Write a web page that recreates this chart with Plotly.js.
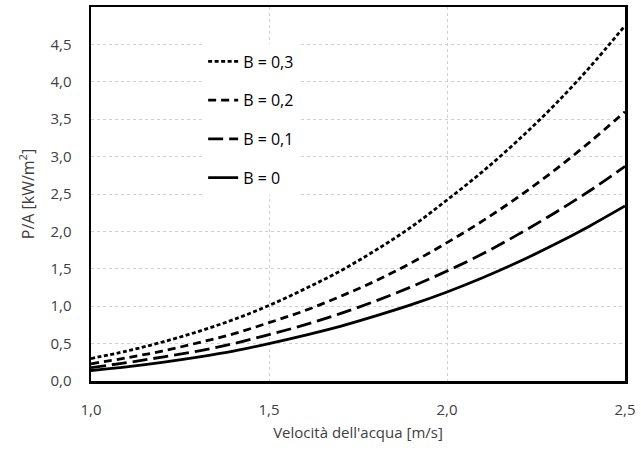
<!DOCTYPE html>
<html><head><meta charset="utf-8">
<script src="https://cdn.plot.ly/plotly-3.0.1.min.js"></script>
<style>html,body{margin:0;padding:0;background:#fff}#chart{width:641px;height:461px}</style>
</head><body><div id="chart"></div>
<script>
const velocity = [1.0,1.1,1.2,1.3,1.4,1.5,1.6,1.7,1.8,1.9,2.0,2.1,2.2,2.3,2.4,2.5];
const seriesNames = ["B = 0,3","B = 0,2","B = 0,1","B = 0"];
const b03 = [0.30,0.40,0.52,0.66,0.82,1.01,1.23,1.47,1.75,2.06,2.42,2.80,3.22,3.68,4.19,4.75];
const b02 = [0.23,0.31,0.40,0.51,0.63,0.78,0.94,1.13,1.34,1.58,1.85,2.14,2.46,2.81,3.19,3.60];
const b01 = [0.18,0.245,0.32,0.40,0.50,0.62,0.75,0.90,1.07,1.26,1.47,1.70,1.96,2.24,2.54,2.87];
const b00 = [0.14,0.19,0.25,0.32,0.40,0.50,0.61,0.73,0.87,1.02,1.19,1.38,1.59,1.82,2.07,2.34];
const yTicks = [0,0.5,1,1.5,2,2.5,3,3.5,4,4.5];
const xTicks = [1.0,1.5,2.0,2.5];

const dashes = ["4px,2.5px","8px,5px","15px,6px","solid"];
const ys = [b03,b02,b01,b00];
const traces = ys.map((y,i)=>({
  x: velocity, y: y, type:"scatter", mode:"lines", name: seriesNames[i],
  legendgroup: "g"+i,
  line:{color:"#000", width:2.8, dash:dashes[i], shape:"spline"}
}));
const fam = "Open Sans, Liberation Sans, sans-serif";
const layout = {
  width:641, height:461,
  margin:{l:91, r:16, t:7, b:80},
  paper_bgcolor:"#fff", plot_bgcolor:"#fff",
  separators:",.",
  font: {family:fam, size:15, color:"#404040"},
  showlegend:true,
  legend:{x:0.21, y:0.9, xanchor:"left", yanchor:"top", bgcolor:"#fff",
    font:{family:fam, size:16, color:"#000"}, tracegroupgap:15, traceorder:"grouped"},
  xaxis:{range:[1,2.5], tickvals:xTicks, tickformat:".1f", showgrid:true,
    gridcolor:"#d0d0d0", griddash:"dot", gridwidth:1,
    showline:true, linecolor:"#000", linewidth:2.5, mirror:true, ticks:"",
    zeroline:false, ticklabelstandoff:13,
    tickfont:{family:fam, size:15, color:"#404040"},
    title:{text:"Velocità dell'acqua [m/s]", font:{family:fam,size:15,color:"#404040"}, standoff:10}},
  yaxis:{range:[0,5], tickvals:yTicks, tickformat:".1f", showgrid:true,
    gridcolor:"#d0d0d0", griddash:"dot", gridwidth:1,
    showline:true, linecolor:"#000", linewidth:2.5, mirror:true, ticks:"",
    zeroline:false, ticklabelstandoff:14,
    tickfont:{family:fam, size:15, color:"#404040"},
    title:{text:"P/A [kW/m<sup>2</sup>]", font:{family:fam,size:16,color:"#404040"}, standoff:12}}
};
Plotly.newPlot("chart", traces, layout, {displayModeBar:false, staticPlot:true});
</script></body></html>
